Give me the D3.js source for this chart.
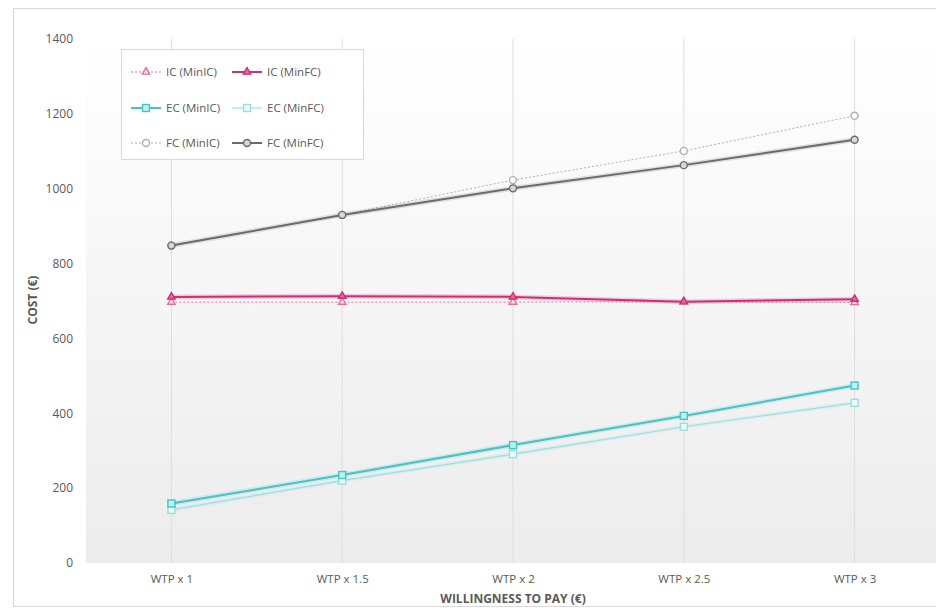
<!DOCTYPE html>
<html><head><meta charset="utf-8">
<script src="https://cdn.jsdelivr.net/npm/d3@7"></script>
<style>
html,body{margin:0;padding:0;background:#fff;}
svg{display:block;}
</style></head>
<body>
<svg id="chart" width="936" height="614"></svg>
<script>
const categories = ["WTP x 1","WTP x 1.5","WTP x 2","WTP x 2.5","WTP x 3"];
const icMinIC = [697, 697, 697, 698, 696];
const icMinFC = [711, 713, 711, 698, 705];
const ecMinIC = [159, 235, 315, 393, 474];
const ecMinFC = [142, 220, 291, 364, 428];
const fcMinIC = [848, 930, 1023, 1101, 1195];
const fcMinFC = [848, 930, 1001, 1063, 1131];
const yTicks = [0, 200, 400, 600, 800, 1000, 1200, 1400];

const series = [
  {name:"IC (MinIC)", values:icMinIC, color:"#e0709f", width:1, dash:"2,2", marker:"triangle", fill:"#fbe3ee"},
  {name:"IC (MinFC)", values:icMinFC, color:"#cf2f72", width:2, dash:null, marker:"triangle", fill:"#e46a9c"},
  {name:"EC (MinIC)", values:ecMinIC, color:"#45c4c6", width:2, dash:null, marker:"square", fill:"#bff0f0"},
  {name:"EC (MinFC)", values:ecMinFC, color:"#9adfe0", width:1.2, dash:null, marker:"square", fill:"#eefafa"},
  {name:"FC (MinIC)", values:fcMinIC, color:"#b0b0b0", width:1, dash:"2,2", marker:"circle", fill:"#ffffff"},
  {name:"FC (MinFC)", values:fcMinFC, color:"#6b6b6b", width:2, dash:null, marker:"circle", fill:"#d8d8d8"}
];

const svg = d3.select("#chart");
const plot = {left:86, right:940, top:39, bottom:563};

// outer frame
svg.append("rect").attr("x",13.5).attr("y",8.5).attr("width",940).attr("height",598)
  .attr("fill","#fff").attr("stroke","#d9d9d9").attr("stroke-width",1);

const defs = svg.append("defs");
const grad = defs.append("linearGradient").attr("id","bg").attr("x1",0).attr("y1",0).attr("x2",0).attr("y2",1);
grad.append("stop").attr("offset","0%").attr("stop-color","#ffffff");
grad.append("stop").attr("offset","100%").attr("stop-color","#ececec");

const x = d3.scalePoint().domain(categories).range([plot.left, plot.right]).padding(0.5);
const y = d3.scaleLinear().domain([0,1400]).range([plot.bottom, plot.top]);

svg.append("rect").attr("x",plot.left).attr("y",plot.top)
  .attr("width",plot.right-plot.left).attr("height",plot.bottom-plot.top)
  .attr("fill","url(#bg)");

// vertical gridlines
svg.append("g").selectAll("line").data(categories).join("line")
  .attr("x1",d=>x(d)).attr("x2",d=>x(d)).attr("y1",plot.top).attr("y2",plot.bottom)
  .attr("stroke","#dedede").attr("stroke-width",1);

// y axis labels
const yAxis = d3.axisLeft(y).tickValues(yTicks).tickSize(0).tickPadding(0).tickFormat(d3.format("d"));
const gy = svg.append("g").attr("transform",`translate(${plot.left-13},0)`).call(yAxis);
gy.select(".domain").remove();
gy.selectAll("text").attr("font-family","'Open Sans', sans-serif").attr("font-size",12).attr("fill","#595959");

// x axis labels
const xAxis = d3.axisBottom(x).tickSize(0).tickPadding(0);
const gx = svg.append("g").attr("transform",`translate(0,${plot.bottom+12})`).call(xAxis);
gx.select(".domain").remove();
gx.selectAll("text").attr("font-family","'Open Sans', sans-serif").attr("font-size",11.5).attr("fill","#595959");

// axis titles
svg.append("text").attr("x",x(categories[2])).attr("y",603)
  .attr("text-anchor","middle").attr("font-family","'Liberation Sans Narrow','Open Sans',sans-serif")
  .attr("font-weight","bold").attr("font-size",12).attr("fill","#595959").text("WILLINGNESS TO PAY (€)");
svg.append("text").attr("transform","translate(37,300) rotate(-90)")
  .attr("text-anchor","middle").attr("font-family","'Liberation Sans Narrow','Open Sans',sans-serif")
  .attr("font-weight","bold").attr("font-size",12).attr("fill","#595959").text("COST (€)");

function drawMarker(g, type, cx, cy, s){
  let m;
  if(type==="triangle"){
    m = g.append("path").attr("d", d3.symbol(d3.symbolTriangle, 24)()).attr("transform",`translate(${cx},${cy})`);
  } else if(type==="square"){
    m = g.append("rect").attr("x",cx-3.5).attr("y",cy-3.5).attr("width",7).attr("height",7);
  } else {
    m = g.append("circle").attr("cx",cx).attr("cy",cy).attr("r",3.5);
  }
  m.attr("fill",s.fill).attr("stroke",s.color).attr("stroke-width",1.4);
}

const line = d3.line().x((d,i)=>x(categories[i])).y(d=>y(d));
const order = [4,5,0,1,3,2];
order.forEach(k=>{
  const s = series[k];
  const g = svg.append("g");
  if(!s.dash){
    g.append("path").attr("d",line(s.values)).attr("fill","none")
      .attr("stroke",s.color).attr("stroke-opacity",0.18).attr("stroke-width",s.width+3);
  }
  g.append("path").attr("d",line(s.values)).attr("fill","none")
    .attr("stroke",s.color).attr("stroke-width",s.width).attr("stroke-dasharray",s.dash);
  s.values.forEach((v,i)=>drawMarker(g, s.marker, x(categories[i]), y(v), s));
});

// legend
const lg = svg.append("g");
lg.append("rect").attr("x",121.5).attr("y",49.5).attr("width",242).attr("height",110)
  .attr("fill","#fff").attr("stroke","#d9d9d9");
const rowsY = [72, 108, 143];
const colX = [131, 232];
series.forEach((s,i)=>{
  const r = Math.floor(i/2), c = i%2;
  const lx = colX[c], ly = rowsY[r];
  lg.append("line").attr("x1",lx).attr("x2",lx+30).attr("y1",ly).attr("y2",ly)
    .attr("stroke",s.color).attr("stroke-width",s.width).attr("stroke-dasharray",s.dash);
  drawMarker(lg, s.marker, lx+15, ly, s);
  lg.append("text").attr("x",lx+35).attr("y",ly).attr("dy","0.35em")
    .attr("font-family","'Open Sans', sans-serif").attr("font-size",11.5).attr("fill","#595959").text(s.name);
});
</script>
</body></html>
